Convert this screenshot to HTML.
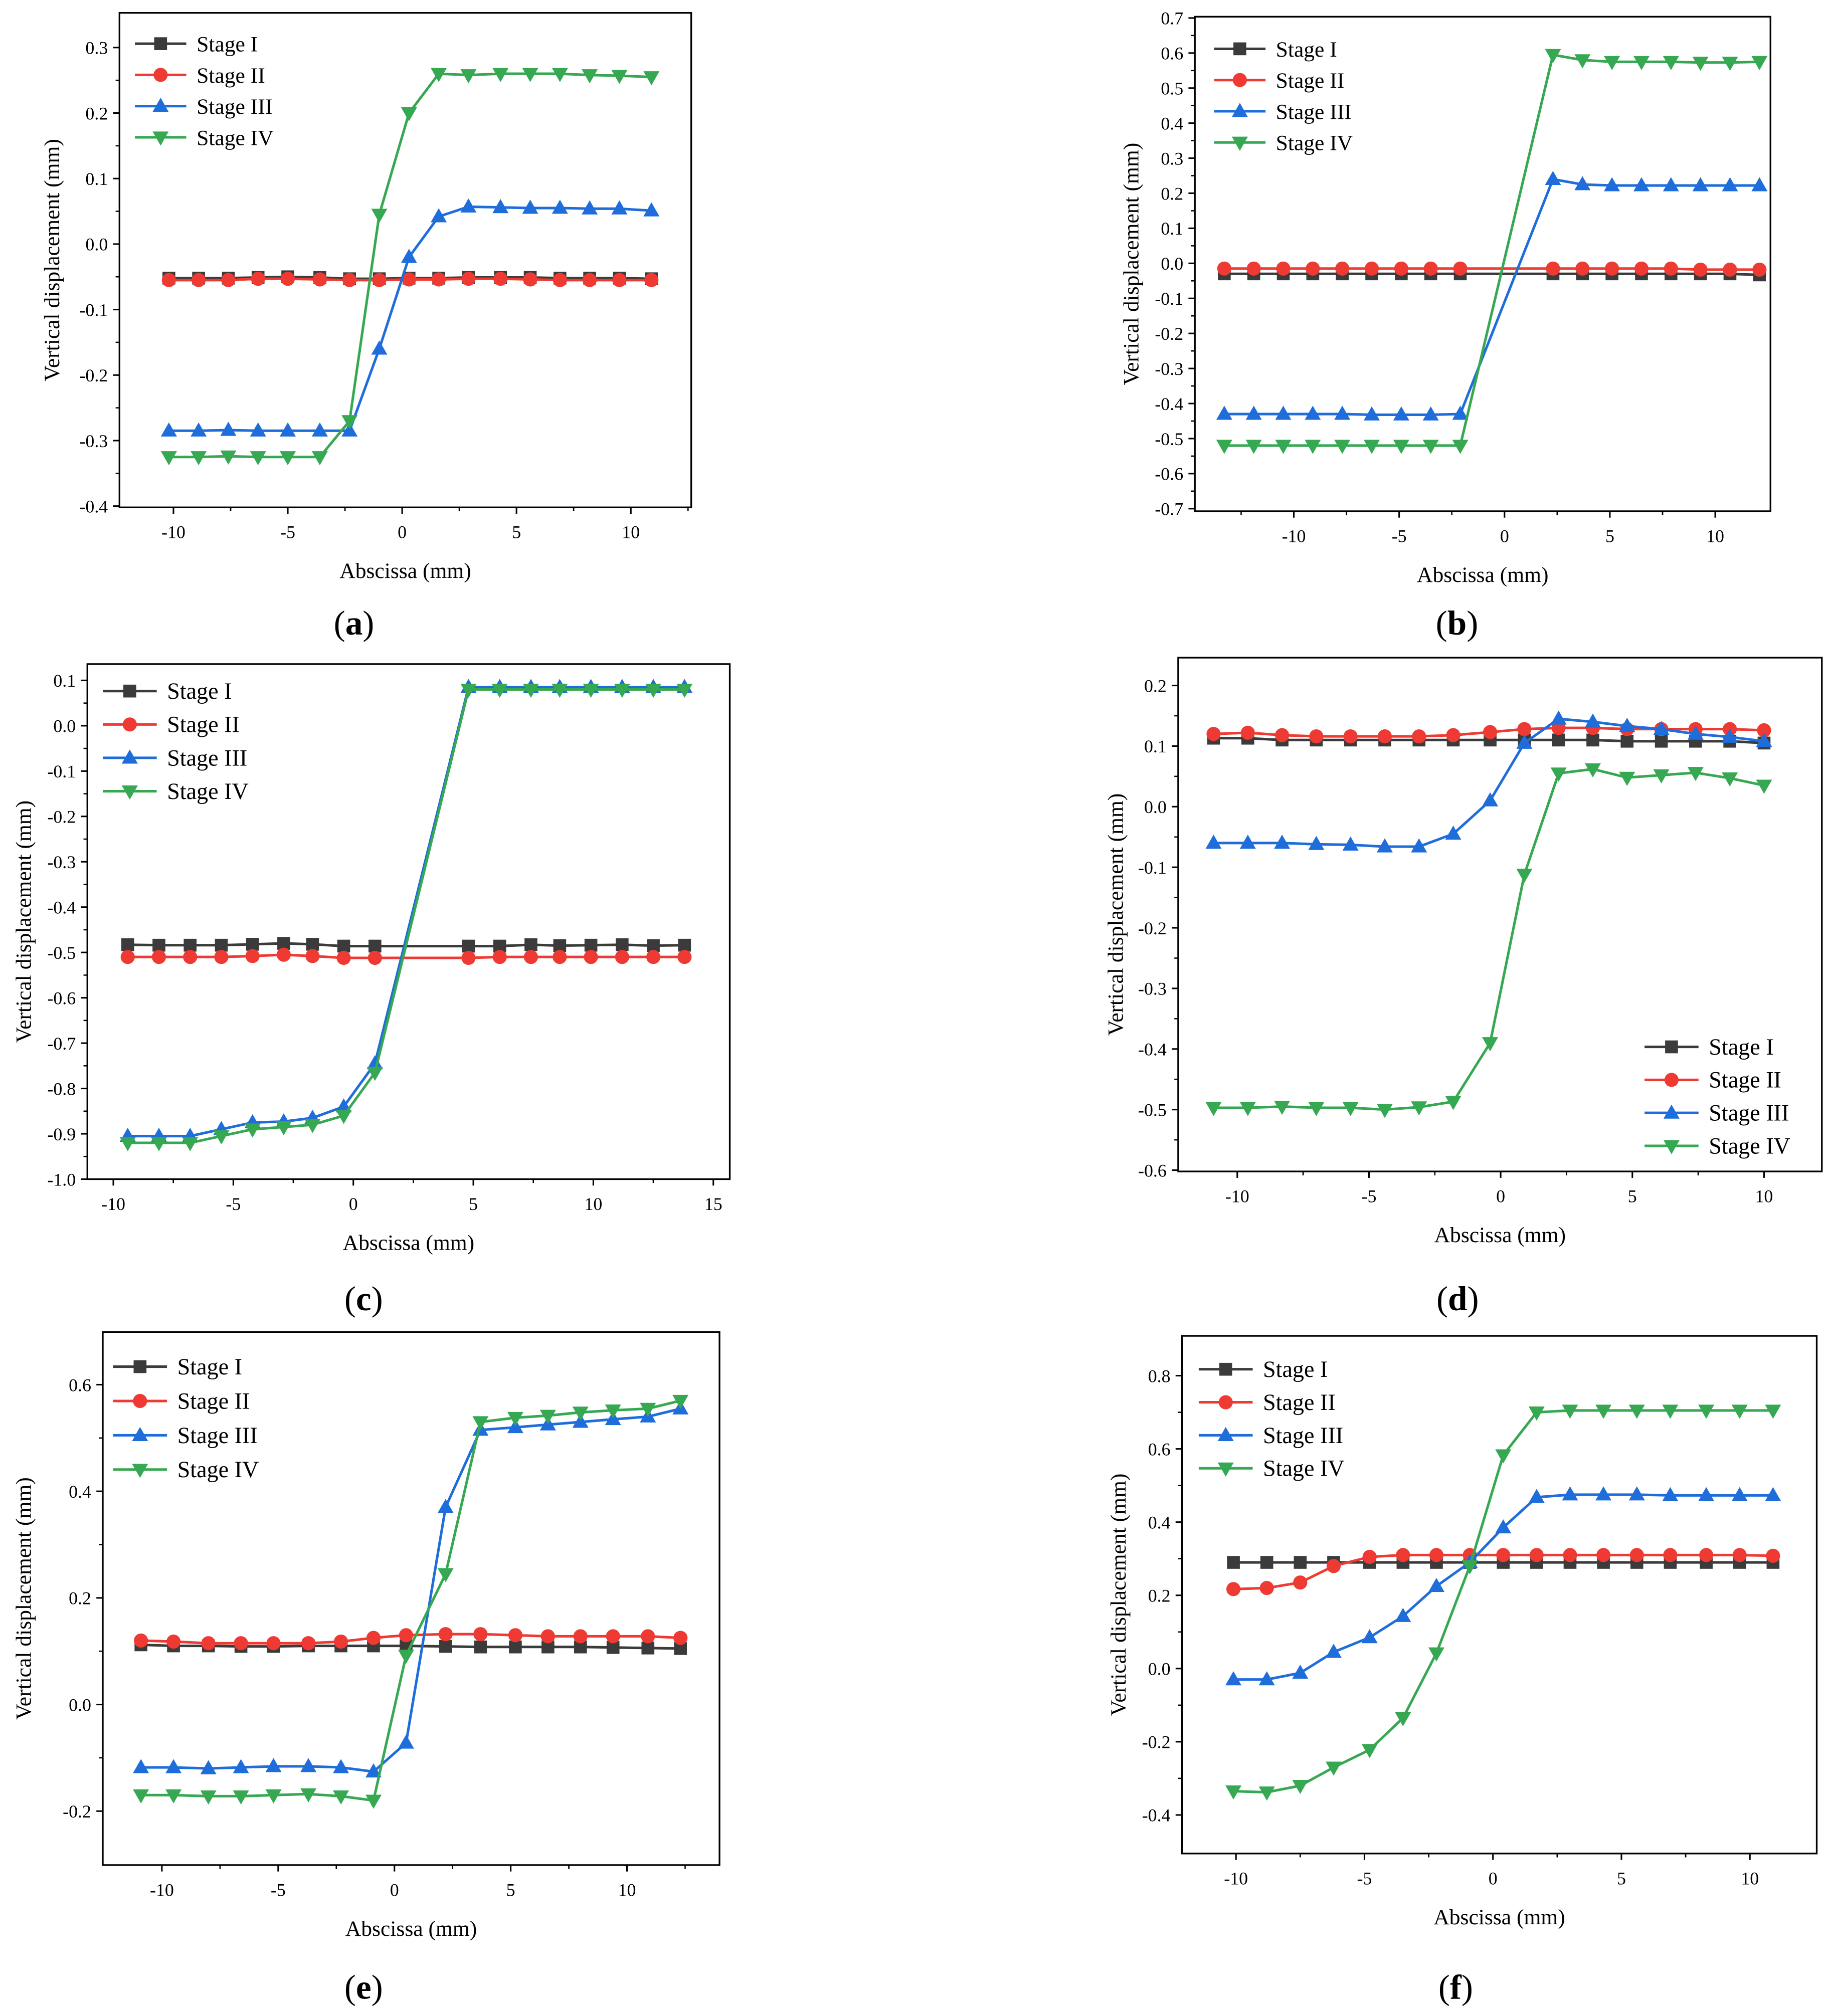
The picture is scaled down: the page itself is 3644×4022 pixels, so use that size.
<!DOCTYPE html>
<html><head><meta charset="utf-8">
<style>
html,body{margin:0;padding:0;background:#fff;}
svg{display:block;font-family:"Liberation Serif","DejaVu Serif",serif;}
text{font-family:"Liberation Serif","DejaVu Serif",serif;fill:#000;}
</style></head>
<body>
<svg id="fig" xmlns="http://www.w3.org/2000/svg" width="3644" height="4022" viewBox="0 0 1422 1569.5" font-family="Liberation Serif, DejaVu Serif, serif">
<rect x="0" y="0" width="1422" height="1570" fill="#fff"/>
</svg>
<script>
// ---------- DATA ----------
const stageNames = ["Stage I","Stage II","Stage III","Stage IV"];
// panel a
const aX = [-10.2,-8.9,-7.6,-6.3,-5.0,-3.6,-2.3,-1.0,0.3,1.6,2.9,4.3,5.6,6.9,8.2,9.5,10.9];
const aS1 = [-0.052,-0.052,-0.052,-0.051,-0.050,-0.051,-0.053,-0.053,-0.052,-0.052,-0.051,-0.051,-0.051,-0.052,-0.052,-0.052,-0.053];
const aS2 = [-0.055,-0.055,-0.055,-0.053,-0.053,-0.054,-0.055,-0.055,-0.054,-0.054,-0.053,-0.053,-0.054,-0.055,-0.055,-0.055,-0.055];
const aS3 = [-0.285,-0.285,-0.284,-0.285,-0.285,-0.285,-0.285,-0.16,-0.02,0.042,0.057,0.056,0.055,0.055,0.054,0.054,0.051];
const aS4 = [-0.325,-0.325,-0.324,-0.325,-0.325,-0.325,-0.27,0.045,0.20,0.26,0.258,0.26,0.26,0.26,0.258,0.257,0.255];
// panel b
const bX = [-13.3,-11.9,-10.5,-9.1,-7.7,-6.3,-4.9,-3.5,-2.1,2.3,3.7,5.1,6.5,7.9,9.3,10.7,12.1];
const bS1 = [-0.03,-0.03,-0.03,-0.03,-0.03,-0.03,-0.03,-0.03,-0.03,-0.03,-0.03,-0.03,-0.03,-0.03,-0.03,-0.03,-0.033];
const bS2 = [-0.015,-0.015,-0.015,-0.015,-0.015,-0.015,-0.015,-0.015,-0.015,-0.015,-0.015,-0.015,-0.015,-0.015,-0.018,-0.018,-0.018];
const bS3 = [-0.43,-0.43,-0.43,-0.43,-0.43,-0.432,-0.432,-0.432,-0.43,0.24,0.225,0.222,0.222,0.222,0.222,0.222,0.222];
const bS4 = [-0.52,-0.52,-0.52,-0.52,-0.52,-0.52,-0.52,-0.52,-0.52,0.595,0.58,0.575,0.575,0.575,0.573,0.573,0.575];
// panel c
const cX = [-9.4,-8.1,-6.8,-5.5,-4.2,-2.9,-1.7,-0.4,0.9,4.8,6.1,7.4,8.6,9.9,11.2,12.5,13.8];
const cS1 = [-0.483,-0.484,-0.484,-0.484,-0.482,-0.48,-0.482,-0.486,-0.486,-0.486,-0.486,-0.483,-0.485,-0.484,-0.483,-0.485,-0.484];
const cS2 = [-0.51,-0.51,-0.51,-0.51,-0.508,-0.505,-0.508,-0.512,-0.512,-0.512,-0.51,-0.51,-0.51,-0.51,-0.51,-0.51,-0.51];
const cS3 = [-0.905,-0.905,-0.905,-0.89,-0.875,-0.873,-0.865,-0.84,-0.745,0.085,0.085,0.085,0.085,0.085,0.085,0.085,0.085];
const cS4 = [-0.92,-0.92,-0.92,-0.905,-0.89,-0.885,-0.88,-0.86,-0.765,0.08,0.08,0.08,0.08,0.08,0.08,0.08,0.08];
// panel d
const dX = [-10.9,-9.6,-8.3,-7.0,-5.7,-4.4,-3.1,-1.8,-0.4,0.9,2.2,3.5,4.8,6.1,7.4,8.7,10.0];
const dS1 = [0.113,0.113,0.11,0.11,0.11,0.11,0.11,0.11,0.11,0.11,0.11,0.11,0.108,0.108,0.108,0.108,0.105];
const dS2 = [0.12,0.122,0.118,0.116,0.116,0.116,0.116,0.118,0.123,0.128,0.13,0.13,0.128,0.128,0.128,0.128,0.126];
const dS3 = [-0.06,-0.06,-0.06,-0.062,-0.063,-0.066,-0.066,-0.045,0.01,0.105,0.145,0.14,0.133,0.128,0.12,0.115,0.108];
const dS4 = [-0.497,-0.497,-0.495,-0.497,-0.497,-0.5,-0.496,-0.487,-0.39,-0.112,0.055,0.062,0.048,0.052,0.056,0.047,0.035];
// panel e
const eX = [-10.9,-9.5,-8.0,-6.6,-5.2,-3.7,-2.3,-0.9,0.5,2.2,3.7,5.2,6.6,8.0,9.4,10.9,12.3];
const eS1 = [0.112,0.11,0.11,0.109,0.109,0.11,0.11,0.11,0.11,0.109,0.108,0.108,0.108,0.108,0.107,0.106,0.105];
const eS2 = [0.12,0.118,0.115,0.115,0.115,0.115,0.118,0.125,0.13,0.132,0.132,0.13,0.128,0.128,0.128,0.128,0.125];
const eS3 = [-0.118,-0.118,-0.12,-0.118,-0.116,-0.116,-0.118,-0.126,-0.072,0.37,0.515,0.52,0.525,0.53,0.535,0.54,0.555];
const eS4 = [-0.17,-0.17,-0.172,-0.172,-0.17,-0.168,-0.172,-0.18,0.092,0.245,0.53,0.538,0.542,0.548,0.552,0.555,0.57];
// panel f
const fX = [-10.1,-8.8,-7.5,-6.2,-4.8,-3.5,-2.2,-0.9,0.4,1.7,3.0,4.3,5.6,6.9,8.3,9.6,10.9];
const fS1 = [0.29,0.29,0.29,0.29,0.29,0.29,0.29,0.29,0.29,0.29,0.29,0.29,0.29,0.29,0.29,0.29,0.29];
const fS2 = [0.217,0.22,0.235,0.28,0.305,0.31,0.31,0.31,0.31,0.31,0.31,0.31,0.31,0.31,0.31,0.31,0.308];
const fS3 = [-0.03,-0.03,-0.012,0.045,0.085,0.143,0.225,0.29,0.385,0.468,0.475,0.475,0.475,0.473,0.473,0.473,0.473];
const fS4 = [-0.335,-0.338,-0.32,-0.27,-0.222,-0.135,0.042,0.28,0.583,0.7,0.705,0.705,0.705,0.705,0.705,0.705,0.705];
// ticks
const aYTicks = ["0.3","0.2","0.1","0.0","-0.1","-0.2","-0.3","-0.4"];
const bYTicks = ["0.7","0.6","0.5","0.4","0.3","0.2","0.1","0.0","-0.1","-0.2","-0.3","-0.4","-0.5","-0.6","-0.7"];
const cYTicks = ["0.1","0.0","-0.1","-0.2","-0.3","-0.4","-0.5","-0.6","-0.7","-0.8","-0.9","-1.0"];
const dYTicks = ["0.2","0.1","0.0","-0.1","-0.2","-0.3","-0.4","-0.5","-0.6"];
const eYTicks = ["0.6","0.4","0.2","0.0","-0.2"];
const fYTicks = ["0.8","0.6","0.4","0.2","0.0","-0.2","-0.4"];
const abeXTicks = ["-10","-5","0","5","10"];
const cXTicks = ["-10","-5","0","5","10","15"];

// ---------- DRAW ----------
const NS="http://www.w3.org/2000/svg";
const svg=document.getElementById('fig');
const FONT='Liberation Serif, DejaVu Serif, serif';
const colors=["#3b3b3b","#ee3a32","#1f6ddb","#36a852"];
function mk(tag,attrs,parent){const e=document.createElementNS(NS,tag);for(const k in attrs)e.setAttribute(k,attrs[k]);if(tag==='text')e.setAttribute('font-family',FONT);(parent||svg).appendChild(e);return e;}
function marker(g,k,x,y,s){
  let e;
  if(k===0){e=mk('rect',{x:x-s,y:y-s,width:2*s,height:2*s,fill:colors[0]},g);}
  else if(k===1){e=mk('circle',{cx:x,cy:y,r:s*1.1,fill:colors[1]},g);}
  else if(k===2){e=mk('polygon',{points:`${x},${y-s*1.3} ${x-s*1.25},${y+s*0.9} ${x+s*1.25},${y+s*0.9}`,fill:colors[2]},g);}
  else {e=mk('polygon',{points:`${x},${y+s*1.3} ${x-s*1.25},${y-s*0.9} ${x+s*1.25},${y-s*0.9}`,fill:colors[3]},g);}
  return e;
}
function panel(P){
  const g=mk('g',{});
  
  
  const sx=v=>P.xp0+(v-P.xv0)*(P.xp1-P.xp0)/(P.xv1-P.xv0);
  const sy=v=>P.yp0+(v-P.yv0)*(P.yp1-P.yp0)/(P.yv1-P.yv0);
  const [L,T,R,B]=P.box;
  const fr=mk('rect',{x:L,y:T,width:R-L,height:B-T,fill:'none',stroke:'#000','stroke-width':1.3},g);
  
  
  P.yTicks.forEach((t,i)=>{
    const y=sy(parseFloat(t));
    mk('line',{x1:L-5,x2:L,y1:y,y2:y,stroke:'#000','stroke-width':1.2},g);
    const tx=mk('text',{x:L-9,y:y+5,'text-anchor':'end','font-size':14},g);tx.textContent=t;
    
    
    if(i<P.yTicks.length-1){const ym=sy((parseFloat(t)+parseFloat(P.yTicks[i+1]))/2);
      mk('line',{x1:L-3,x2:L,y1:ym,y2:ym,stroke:'#000','stroke-width':1},g);}
  });
  P.xTicks.forEach((t,i)=>{
    const x=sx(parseFloat(t));
    mk('line',{x1:x,x2:x,y1:B,y2:B+5,stroke:'#000','stroke-width':1.2},g);
    const tx=mk('text',{x:x,y:B+24,'text-anchor':'middle','font-size':14},g);tx.textContent=t;
    
    
    [-2.5,2.5].forEach(d=>{const xm=sx(parseFloat(t)+d);if(xm>L+2&&xm<R-2)mk('line',{x1:xm,x2:xm,y1:B,y2:B+3,stroke:'#000','stroke-width':1},g);});
  });
  const xl=mk('text',{x:(L+R)/2,y:B+55,'text-anchor':'middle','font-size':17},g);xl.textContent='Abscissa (mm)';
  
  
  const yl=mk('text',{x:0,y:0,'text-anchor':'middle','font-size':17,transform:`translate(${P.ylx},${(T+B)/2}) rotate(-90)`},g);yl.textContent='Vertical displacement (mm)';
  
  
  const pl=mk('text',{x:(L+R)/2+P.labDx,y:P.labY,'text-anchor':'middle','font-size':27},g);
  pl.innerHTML='(<tspan font-weight="bold">'+P.id+'</tspan>)';
  
  
  P.series.forEach((ys,k)=>{
    const sg=mk('g',{},g);
    
    
    const pts=P.x.map((xv,i)=>sx(xv)+','+sy(ys[i])).join(' ');
    mk('polyline',{points:pts,fill:'none',stroke:colors[k],'stroke-width':2},sg);
    P.x.forEach((xv,i)=>{const m=marker(sg,k,sx(xv),sy(ys[i]),5);
      
      });
  });
  const lg=mk('g',{},g);
  
  
  stageNames.forEach((n,k)=>{
    const y=P.leg.y+k*P.leg.dy;
    const eg=mk('g',{},lg);
    
    
    mk('line',{x1:P.leg.x,x2:P.leg.x+P.leg.w,y1:y,y2:y,stroke:colors[k],'stroke-width':2},eg);
    marker(eg,k,P.leg.x+P.leg.w/2,y,5);
    const t=mk('text',{x:P.leg.x+P.leg.w+8,y:y+6,'font-size':P.leg.fs},eg);t.textContent=n;
  });
}
panel({id:'a',box:[93,10,538,395],xv0:0,xp0:313,xv1:10,xp1:491,yv0:0,yp0:190,yv1:0.3,yp1:37,
  xTicks:abeXTicks,yTicks:aYTicks,x:aX,series:[aS1,aS2,aS3,aS4],ylx:46,labY:494,labDx:-40,
  leg:{x:105,y:34,dy:24.3,w:40,fs:17}});
panel({id:'b',box:[930,13,1378,398],xv0:0,xp0:1171,xv1:10,xp1:1335,yv0:0,yp0:205,yv1:0.7,yp1:14,
  xTicks:abeXTicks,yTicks:bYTicks,x:bX,series:[bS1,bS2,bS3,bS4],ylx:886,labY:494,labDx:-20,
  leg:{x:945,y:38,dy:24.3,w:40,fs:17}});
panel({id:'c',box:[68,517,568,918],xv0:0,xp0:275,xv1:10,xp1:461.8,yv0:0,yp0:565,yv1:-1.0,yp1:918,
  xTicks:cXTicks,yTicks:cYTicks,x:cX,series:[cS1,cS2,cS3,cS4],ylx:24,labY:1020,labDx:-35,
  leg:{x:80,y:538,dy:26,w:42,fs:18}});
panel({id:'d',box:[917,512,1418,912],xv0:0,xp0:1168,xv1:10,xp1:1373,yv0:0,yp0:628,yv1:-0.6,yp1:911,
  xTicks:abeXTicks,yTicks:dYTicks,x:dX,series:[dS1,dS2,dS3,dS4],ylx:874,labY:1020,labDx:-33,
  leg:{x:1280,y:815,dy:25.7,w:42,fs:18}});
panel({id:'e',box:[80,1037,560,1452],xv0:0,xp0:307,xv1:10,xp1:488,yv0:0,yp0:1327,yv1:0.6,yp1:1078,
  xTicks:abeXTicks,yTicks:eYTicks,x:eX,series:[eS1,eS2,eS3,eS4],ylx:24,labY:1556,labDx:-37,
  leg:{x:88,y:1064,dy:26.7,w:42,fs:18}});
panel({id:'f',box:[920,1040,1414,1443],xv0:0,xp0:1162,xv1:10,xp1:1362,yv0:0,yp0:1299,yv1:0.8,yp1:1071,
  xTicks:abeXTicks,yTicks:fYTicks,x:fX,series:[fS1,fS2,fS3,fS4],ylx:876,labY:1556,labDx:-34,
  leg:{x:933,y:1066,dy:25.7,w:42,fs:18}});
</script>
</body></html>
